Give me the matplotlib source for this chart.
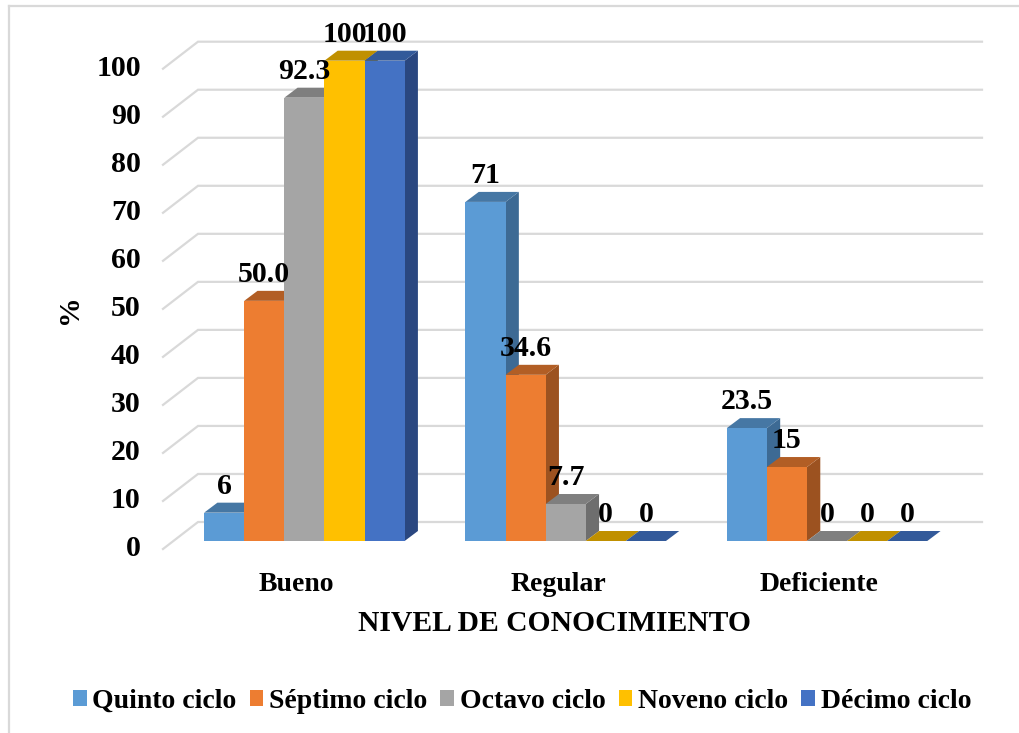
import matplotlib
matplotlib.use("Agg")
import matplotlib.pyplot as plt
from matplotlib.patches import Rectangle, Polygon
from matplotlib.transforms import ScaledTranslation
import numpy as np

plt.rcParams['font.family'] = ['Liberation Serif', 'DejaVu Serif']
plt.rcParams['font.weight'] = 'bold'

categories = ['Bueno', 'Regular', 'Deficiente']
series_names = ['Quinto ciclo', 'Séptimo ciclo', 'Octavo ciclo', 'Noveno ciclo', 'Décimo ciclo']
quinto = [5.9, 70.6, 23.5]
septimo = [50.0, 34.6, 15.4]
octavo = [92.3, 7.7, 0]
noveno = [100, 0, 0]
decimo = [100, 0, 0]
labels_quinto = ['6', '71', '23.5']
labels_septimo = ['50.0', '34.6', '15']
labels_octavo = ['92.3', '7.7', '0']
labels_noveno = ['100', '0', '0']
labels_decimo = ['100', '0', '0']
yticks = [0, 10, 20, 30, 40, 50, 60, 70, 80, 90, 100]

series = [quinto, septimo, octavo, noveno, decimo]
series_labels = [labels_quinto, labels_septimo, labels_octavo, labels_noveno, labels_decimo]
front = ['#5B9BD5', '#ED7D31', '#A5A5A5', '#FFC000', '#4472C4']
top = ['#4677A4', '#B25E25', '#7F7F7F', '#C09000', '#335A9A']
side = ['#3D6A94', '#9C5220', '#6E6E6E', '#A67C00', '#2A4780']

W, H = 1019, 733
fig = plt.figure(figsize=(W / 100, H / 100), dpi=100)
L, R, B, T = 163, 947, 541, 60.7
ax = fig.add_axes([L / W, 1 - B / H, (R - L) / W, (B - T) / H])
ax.set_xlim(0, 3)
ax.set_ylim(0, 100)
for s in ax.spines.values():
    s.set_visible(False)

px_x = 3 / (R - L)
px_y = 100 / (B - T)

# frame
fig.add_artist(plt.Line2D([8.5 / W, 8.5 / W], [0, 1 - 6 / H], color='#D9D9D9', lw=1.6))
fig.add_artist(plt.Line2D([8.5 / W, 1], [1 - 6 / H, 1 - 6 / H], color='#D9D9D9', lw=1.6))

# walls
wall_dx, wall_dy0, wall_dy1 = 35 * px_x, -8 * px_y, 19 * px_y
for v in yticks:
    ax.plot([0, wall_dx, (982 - L) * px_x], [v + wall_dy0, v + wall_dy1, v + wall_dy1],
            color='#D9D9D9', lw=1.6, clip_on=False, zorder=1, solid_joinstyle='miter')

# bars
group_w = 200.5 * px_x
bw = group_w / 5
shift = 10.7 * px_x
dx, dy = 13.3 * px_x, 10 * px_y
for c in range(len(categories)):
    x0 = c + 0.5 + shift - group_w / 2
    for i, vals in enumerate(series):
        v = vals[c]
        xl = x0 + i * bw
        xr = xl + bw
        ax.add_patch(Polygon([(xr, 0), (xr + dx, dy), (xr + dx, v + dy), (xr, v)], fc=side[i], ec='none', zorder=2, clip_on=False))
        ax.add_patch(Polygon([(xl, v), (xl + dx, v + dy), (xr + dx, v + dy), (xr, v)], fc=top[i], ec='none', zorder=2, clip_on=False))
        if v > 0:
            ax.add_patch(Rectangle((xl, 0), bw, v, fc=front[i], ec='none', zorder=2, clip_on=False))

for c in range(len(categories)):
    x0 = c + 0.5 + shift - group_w / 2
    for i, vals in enumerate(series):
        ax.annotate(series_labels[i][c], (x0 + (i + 0.5) * bw, vals[c]), xytext=(0, 19), textcoords='offset points',
                    ha='center', va='center', fontsize=21.5, fontweight='bold', color='black', zorder=5, annotation_clip=False)

# axes text
ax.set_yticks(yticks)
ax.set_xticks([c + 0.5 for c in range(len(categories))])
ax.set_xticklabels(categories)
ax.tick_params(axis='both', length=0)
ax.tick_params(axis='y', pad=16, labelsize=21.5)
ax.tick_params(axis='x', pad=22.5, labelsize=20)
for lab in ax.get_yticklabels():
    lab.set_transform(lab.get_transform() + ScaledTranslation(0, -4.5 / 100, fig.dpi_scale_trans))
    lab.set_fontweight('bold')
for lab in ax.get_xticklabels():
    lab.set_fontweight('bold')
    lab.set_transform(lab.get_transform() + ScaledTranslation(3 / 100, 0, fig.dpi_scale_trans))
ax.set_xlabel('NIVEL DE CONOCIMIENTO', fontsize=21.3, fontweight='bold', labelpad=9.5)
ax.set_ylabel('%', fontsize=21.5, fontweight='bold', rotation=90)
ax.yaxis.set_label_coords((83 - L) / (R - L), (B - 309) / (B - T))

handles = [Rectangle((0, 0), 1, 1, fc=f, ec='none') for f in front]
fig.legend(handles, series_names, loc='center', bbox_to_anchor=(522 / W, 1 - 701 / H), ncol=5, frameon=False,
           prop={'family': 'Liberation Serif', 'weight': 'bold', 'size': 20},
           handlelength=0.5, handleheight=0.5, handletextpad=0.2, columnspacing=0.47, borderpad=0)

fig.savefig('out.png', dpi=100)
